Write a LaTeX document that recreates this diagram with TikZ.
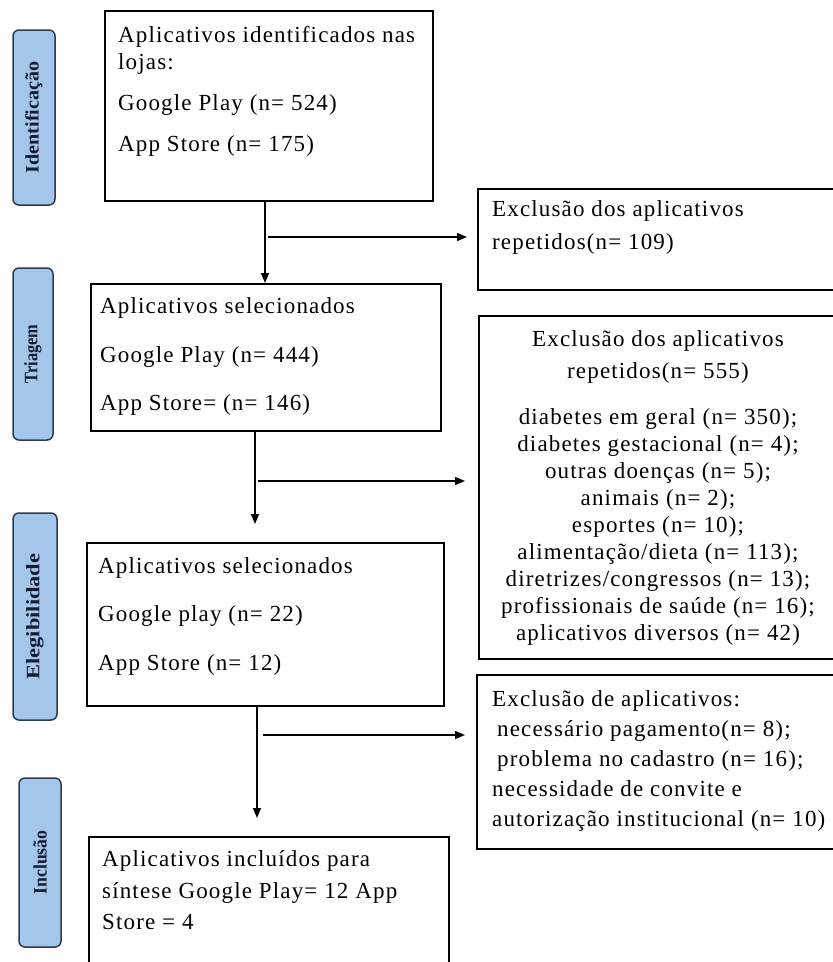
\documentclass[tikz,border=0pt]{standalone}
\usepackage{fontspec}
\setmainfont{Liberation Serif}
\newfontfamily\boxfont{Liberation Serif}[LetterSpace=5]
\newfontfamily\labfont{Liberation Serif}
\usetikzlibrary{arrows.meta,calc}
\definecolor{labfill}{HTML}{A5C6EB}
\definecolor{labdraw}{HTML}{2F3B4C}
\definecolor{labtext}{HTML}{141C33}
\begin{document}
\begin{tikzpicture}[x=1pt,y=-1pt,
  box/.style={draw=black, line width=1.5pt, rectangle, anchor=north west, inner sep=0pt},
  txt/.style={anchor=base west, inner sep=0pt, font=\boxfont\fontsize{23}{27}\selectfont},
  ctxt/.style={anchor=base, inner sep=0pt, font=\boxfont\fontsize{23}{27}\selectfont},
  lab/.style={draw=labdraw, fill=labfill, line width=1.5pt, rounded corners=6pt, rotate=90,
              inner sep=0pt, text=labtext, font=\labfont\bfseries\fontsize{19}{22}\selectfont},
  arr/.style={line width=1.5pt, -{Triangle[length=10pt,width=8pt]}}]
\useasboundingbox (0,0) rectangle (833,962);
\fill[white] (0,0) rectangle (833,962);

% side labels
\node[lab, minimum width=175, minimum height=42] (lab1) at (34,117.5) {\scalebox{1.06}[1]{Identificação}};
\node[lab, minimum width=172, minimum height=40] (lab2) at (33,354) {\scalebox{0.86}[1]{Triagem}};
\node[lab, minimum width=207, minimum height=44] (lab3) at (35,616.5) {\scalebox{1.18}[1]{Elegibilidade}};
\node[lab, minimum width=169, minimum height=42] (lab4) at (40,862.5) {\scalebox{0.93}[1]{Inclusão}};

% main boxes
\node[box, minimum width=328, minimum height=190] (box1) at (104,10) {};
\node[box, minimum width=350, minimum height=147] (box2) at (90,283) {};
\node[box, minimum width=357, minimum height=163] (box3) at (86,542) {};
\node[box, minimum width=360, minimum height=140] (box4) at (88,836) {};
\node[box, minimum width=370, minimum height=101] (r1) at (477,188) {};
\node[box, minimum width=370, minimum height=343] (r2) at (478,315) {};
\node[box, minimum width=370, minimum height=174] (r3) at (476,674) {};

% texts box1
\node[txt] (t11) at (118,42) {Aplicativos identificados nas};
\node[txt] (t12) at (118,69) {lojas:};
\node[txt] (t13) at (118,110) {Google Play (n= 524)};
\node[txt] (t14) at (118,151) {App Store (n= 175)};
% box2
\node[txt] (t21) at (100,313) {Aplicativos selecionados};
\node[txt] (t22) at (100,362) {Google Play (n= 444)};
\node[txt] (t23) at (100,410) {App Store= (n= 146)};
% box3
\node[txt] (t31) at (98,573) {Aplicativos selecionados};
\node[txt] (t32) at (98,621) {Google play (n= 22)};
\node[txt] (t33) at (98,670) {App Store (n= 12)};
% box4
\node[txt] (t41) at (102,866) {Aplicativos incluídos para};
\node[txt] (t42) at (102,898) {síntese Google Play= 12 App};
\node[txt] (t43) at (102,929) {Store = 4};
% r1
\node[txt] (u11) at (492,216) {Exclusão dos aplicativos};
\node[txt] (u12) at (492,249) {repetidos(n= 109)};
% r2
\node[ctxt] (u21) at (658,346) {Exclusão dos aplicativos};
\node[ctxt] (u22) at (658,378) {repetidos(n= 555)};
\node[ctxt] (u23) at (658,424) {diabetes em geral (n= 350);};
\node[ctxt] (u24) at (658,451) {diabetes gestacional (n= 4);};
\node[ctxt] (u25) at (658,478) {outras doenças (n= 5);};
\node[ctxt] (u26) at (658,505) {animais (n= 2);};
\node[ctxt] (u27) at (658,532) {esportes (n= 10);};
\node[ctxt] (u28) at (658,559) {alimentação/dieta (n= 113);};
\node[ctxt] (u29) at (658,586) {diretrizes/congressos (n= 13);};
\node[ctxt] (u210) at (658,613) {profissionais de saúde (n= 16);};
\node[ctxt] (u211) at (658,640) {aplicativos diversos (n= 42)};
% r3
\node[txt] (u31) at (492,706) {Exclusão de aplicativos:};
\node[txt] (u32) at (497,736) {necessário pagamento(n= 8);};
\node[txt] (u33) at (497,766) {problema no cadastro (n= 16);};
\node[txt] (u34) at (492,796) {necessidade de convite e};
\node[txt] (u35) at (492,826) {autorização institucional (n= 10)};

% connectors
\coordinate (x1) at (265,0);
\coordinate (x2) at (255,0);
\coordinate (x3) at (257,0);
\coordinate (j1) at (268,237);
\coordinate (j2) at (258,481);
\coordinate (j3) at (263,735);
\draw[arr] (box1.south -| x1) -- (box2.north -| x1);
\draw[arr, shorten >=18pt] (box2.south -| x2) -- (box3.north -| x2);
\draw[arr, shorten >=18pt] (box3.south -| x3) -- (box4.north -| x3);
\draw[arr, shorten >=10pt] (j1) -- (j1 -| r1.west);
\draw[arr, shorten >=13pt] (j2) -- (j2 -| r2.west);
\draw[arr, shorten >=11pt] (j3) -- (j3 -| r3.west);
\end{tikzpicture}
\end{document}
